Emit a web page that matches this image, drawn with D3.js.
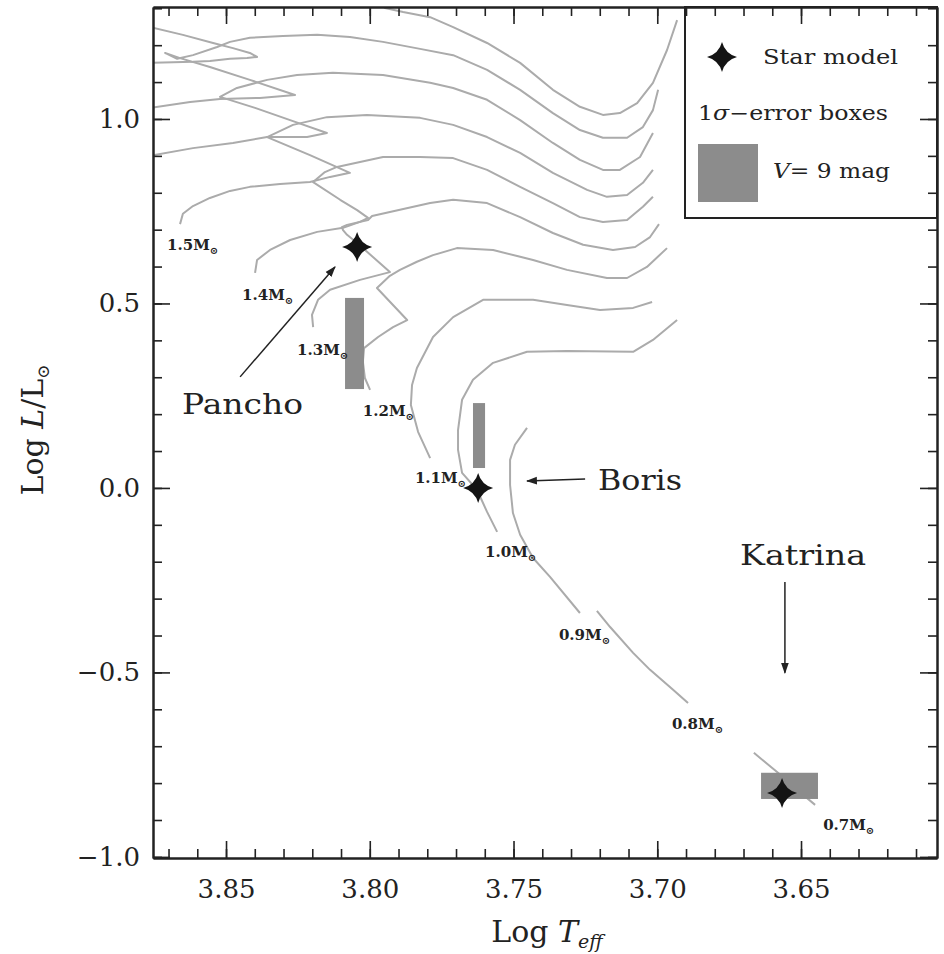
<!DOCTYPE html>
<html>
<head>
<meta charset="utf-8">
<script src="https://cdn.jsdelivr.net/npm/d3@7"></script>
<style>
  html, body { margin: 0; padding: 0; background: #fff; }
  svg { display: block; }
  text { font-family: 'DejaVu Serif', serif; fill: #222; }
</style>
</head>
<body>
<div id="chart"></div>
<script>
// evolutionary tracks, [log Teff, log L/Lsun]; null breaks a track that leaves the frame
const track18 = [[3.8764, 1.152], [3.8684, 1.154], [3.8615, 1.155], [3.8556, 1.157], [3.8486, 1.163], [3.8427, 1.165], [3.8392, 1.168],
    [3.8417, 1.179], [3.8476, 1.192], [3.8545, 1.206], [3.8650, 1.228], [3.8764, 1.249], null,
    [3.7982, 1.323], [3.7947, 1.301], [3.7884, 1.290], [3.7790, 1.276], [3.7710, 1.249], [3.7592, 1.206], [3.7477, 1.152],
    [3.7363, 1.079], [3.7269, 1.033], [3.7189, 1.011], [3.7130, 1.016], [3.7070, 1.043], [3.7015, 1.098], [3.6966, 1.187], [3.6931, 1.268]];
const track17 = [[3.8764, 1.030], [3.8625, 1.046], [3.8521, 1.054], [3.8382, 1.057], [3.8260, 1.065],
    [3.8417, 1.106], [3.8556, 1.141], [3.8660, 1.165], [3.8712, 1.179],
    [3.8670, 1.163], [3.8615, 1.173], [3.8531, 1.195], [3.8486, 1.209], [3.8417, 1.220], [3.8302, 1.225], [3.8183, 1.228],
    [3.8069, 1.222], [3.7954, 1.209], [3.7825, 1.190], [3.7710, 1.173], [3.7592, 1.133], [3.7477, 1.079], [3.7363, 1.016],
    [3.7269, 0.970], [3.7189, 0.949], [3.7105, 0.949], [3.7050, 0.978], [3.7015, 1.024], [3.6997, 1.079]];
const track16 = [[3.8764, 0.900], [3.8615, 0.921], [3.8476, 0.935], [3.8357, 0.951], [3.8218, 0.951], [3.8149, 0.962],
    [3.8277, 0.997], [3.8399, 1.030], [3.8521, 1.060],
    [3.8462, 1.084], [3.8357, 1.106], [3.8253, 1.119], [3.8128, 1.125], [3.7954, 1.119], [3.7790, 1.098], [3.7710, 1.084],
    [3.7592, 1.052], [3.7477, 0.997], [3.7363, 0.935], [3.7269, 0.889], [3.7189, 0.862], [3.7130, 0.862], [3.7060, 0.897], [3.7015, 0.962]];
const track15 = [[3.8660, 0.715], [3.8650, 0.743], [3.8615, 0.764], [3.8556, 0.786], [3.8486, 0.805], [3.8417, 0.816], [3.8312, 0.824],
    [3.8208, 0.829], [3.8138, 0.843], [3.8069, 0.854],
    [3.8208, 0.902], [3.8357, 0.951],
    [3.8267, 0.984], [3.8149, 1.005], [3.8010, 1.011], [3.7825, 1.003], [3.7710, 0.984], [3.7592, 0.951], [3.7477, 0.908],
    [3.7363, 0.854], [3.7244, 0.808], [3.7175, 0.789], [3.7105, 0.794], [3.7050, 0.827], [3.7015, 0.862]];
const track14 = [[3.8399, 0.583], [3.8392, 0.618], [3.8347, 0.645], [3.8277, 0.672], [3.8183, 0.694], [3.8093, 0.705], [3.8034, 0.721], [3.8006, 0.732],
    [3.8044, 0.753], [3.8103, 0.781], [3.8197, 0.829],
    [3.8156, 0.856], [3.8114, 0.870], [3.7954, 0.897], [3.7825, 0.897], [3.7710, 0.894], [3.7592, 0.862], [3.7477, 0.816],
    [3.7363, 0.772], [3.7269, 0.734], [3.7189, 0.721], [3.7105, 0.726], [3.7050, 0.762], [3.7015, 0.789]];
const track13 = [[3.8197, 0.436], [3.8201, 0.469], [3.8180, 0.510], [3.8138, 0.537], [3.8034, 0.564], [3.7930, 0.585],
    [3.8044, 0.664], [3.8079, 0.686], [3.8093, 0.699],
    [3.8097, 0.707], [3.8079, 0.713], [3.8006, 0.726], [3.7992, 0.737], [3.7930, 0.748], [3.7790, 0.772], [3.7710, 0.781],
    [3.7592, 0.772], [3.7477, 0.734], [3.7363, 0.691], [3.7258, 0.659], [3.7154, 0.645], [3.7077, 0.653], [3.7025, 0.680], [3.6994, 0.715]];
const track12 = [[3.7999, 0.266], [3.8017, 0.298], [3.8024, 0.342], [3.8020, 0.379], [3.7971, 0.409], [3.7919, 0.436], [3.7870, 0.455],
    [3.7975, 0.542],
    [3.7930, 0.575], [3.7895, 0.591], [3.7836, 0.613], [3.7780, 0.631], [3.7697, 0.650], [3.7571, 0.645], [3.7432, 0.618],
    [3.7314, 0.591], [3.7175, 0.569], [3.7105, 0.569], [3.7036, 0.599], [3.6966, 0.650]];
const track11 = [[3.7790, 0.081], [3.7832, 0.152], [3.7857, 0.225], [3.7853, 0.279], [3.7836, 0.325], [3.7780, 0.409], [3.7710, 0.463],
    [3.7606, 0.510], [3.7432, 0.510], [3.7314, 0.496], [3.7199, 0.482], [3.7084, 0.488], [3.7018, 0.504]];
const track10 = [[3.7557, -0.119], [3.7592, -0.065], [3.7627, -0.005], [3.7679, 0.041], [3.7693, 0.103], [3.7693, 0.157], [3.7679, 0.239],
    [3.7641, 0.293], [3.7571, 0.339], [3.7453, 0.369], [3.7314, 0.371], [3.7084, 0.369], [3.7015, 0.401], [3.6931, 0.455]];
const track09 = [[3.7269, -0.339], [3.7373, -0.241], [3.7432, -0.190], [3.7477, -0.127], [3.7502, -0.068], [3.7512, 0.008],
    [3.7512, 0.076], [3.7495, 0.117], [3.7453, 0.163]];
const track08 = [[3.6893, -0.583], [3.6945, -0.547], [3.7025, -0.493], [3.7084, -0.447], [3.7164, -0.377], [3.7210, -0.333]];
const track07 = [[3.6451, -0.859], [3.6521, -0.813], [3.6580, -0.772], [3.6664, -0.718]];

const tracks = [track18, track17, track16, track15, track14, track13, track12, track11, track10, track09, track08, track07];

// mass labels and where each one sits
const massLabels = ['1.5', '1.4', '1.3', '1.2', '1.1', '1.0', '0.9', '0.8', '0.7'];
const massLabelLogT = [3.8705, 3.8444, 3.8253, 3.8024, 3.7843, 3.7599, 3.7342, 3.6949, 3.6423];
const massLabelLogL = [0.645, 0.510, 0.360, 0.195, 0.014, -0.187, -0.412, -0.653, -0.927];

// the three stars: model point and 1-sigma error box
const starNames = ['Pancho', 'Boris', 'Katrina'];
const starLogT = [3.8044, 3.7623, 3.6566];
const starLogL = [0.653, 0.000, -0.827];
const boxLogT = [[3.8086, 3.8020], [3.7641, 3.7599], [3.6639, 3.6441]];
const boxLogL = [[0.268, 0.515], [0.054, 0.230], [-0.843, -0.772]];

// name labels and arrows
const nameLogT = [3.8653, 3.7206, 3.6712];
const nameLogL = [0.2005, -0.0054, -0.2087];
const arrowFrom = [[3.8451, 0.301], [3.7251, 0.024], [3.6556, -0.255]];
const arrowTo = [[3.8121, 0.599], [3.7453, 0.019], [3.6556, -0.501]];

const xMajorTicks = [3.85, 3.80, 3.75, 3.70, 3.65];
const yMajorTicks = [-1.0, -0.5, 0.0, 0.5, 1.0];

const width = 944;
const height = 954;
const margin = { top: 7, right: 7, bottom: 96, left: 153 };

const svg = d3.select('#chart')
    .append('svg')
    .attr('width', width)
    .attr('height', height);

const x = d3.scaleLinear()
    .domain([3.8754, 3.6027])
    .range([margin.left, width - margin.right]);

const y = d3.scaleLinear()
    .domain([-1.003, 1.3035])
    .range([height - margin.bottom, margin.top]);

const xMinorTicks = d3.range(361, 388).map(d => d / 100);
const yMinorTicks = d3.range(-10, 14).map(d => d / 10);

const defs = svg.append('defs');
defs.append('clipPath').attr('id', 'plot-clip')
    .append('rect')
    .attr('x', margin.left)
    .attr('y', margin.top)
    .attr('width', width - margin.left - margin.right)
    .attr('height', height - margin.top - margin.bottom);

defs.append('marker')
    .attr('id', 'head')
    .attr('viewBox', '0 0 10 10')
    .attr('refX', 9)
    .attr('refY', 5)
    .attr('markerUnits', 'userSpaceOnUse')
    .attr('markerWidth', 11)
    .attr('markerHeight', 11)
    .attr('orient', 'auto')
    .append('path')
    .attr('d', 'M0,1.5L10,5L0,8.5Z')
    .attr('fill', '#222');

// tracks (straight segments keep the hook tips sharp)
const line = d3.line()
    .defined(d => d !== null)
    .x(d => x(d[0]))
    .y(d => y(d[1]));

svg.append('g')
    .attr('clip-path', 'url(#plot-clip)')
    .selectAll('path')
    .data(tracks)
    .join('path')
    .attr('d', line)
    .attr('fill', 'none')
    .attr('stroke', '#ababab')
    .attr('stroke-width', 2)
    .attr('stroke-linejoin', 'round');

// error boxes
svg.append('g')
    .selectAll('rect')
    .data(boxLogT)
    .join('rect')
    .attr('x', d => x(d[0]))
    .attr('width', d => x(d[1]) - x(d[0]))
    .attr('y', (d, i) => y(boxLogL[i][1]))
    .attr('height', (d, i) => y(boxLogL[i][0]) - y(boxLogL[i][1]))
    .attr('fill', '#8c8c8c');

// four-point star symbol
const starPath = 'M0,-15Q3.2,-3.2 15,0Q3.2,3.2 0,15Q-3.2,3.2 -15,0Q-3.2,-3.2 0,-15Z';

svg.append('g')
    .selectAll('path')
    .data(starLogT)
    .join('path')
    .attr('d', starPath)
    .attr('transform', (d, i) => `translate(${x(d)},${y(starLogL[i])})`)
    .attr('fill', '#141414');

// mass labels
const massText = svg.append('g')
    .selectAll('text')
    .data(massLabels)
    .join('text')
    .attr('x', (d, i) => x(massLabelLogT[i]))
    .attr('y', (d, i) => y(massLabelLogL[i]))
    .attr('font-size', 15)
    .attr('font-weight', 'bold')
    .attr('fill', '#111');
massText.append('tspan').text(d => d + 'M');
massText.append('tspan').attr('dy', 4).attr('font-size', 10).text('\u2299');

// star names and arrows
svg.append('g')
    .selectAll('text')
    .data(starNames)
    .join('text')
    .attr('x', (d, i) => x(nameLogT[i]))
    .attr('y', (d, i) => y(nameLogL[i]))
    .attr('font-size', 28)
    .attr('textLength', (d, i) => [121, 84, 126][i])
    .attr('lengthAdjust', 'spacingAndGlyphs')
    .text(d => d);

svg.append('g')
    .selectAll('line')
    .data(arrowFrom)
    .join('line')
    .attr('x1', d => x(d[0]))
    .attr('y1', d => y(d[1]))
    .attr('x2', (d, i) => x(arrowTo[i][0]))
    .attr('y2', (d, i) => y(arrowTo[i][1]))
    .attr('stroke', '#222')
    .attr('stroke-width', 1.5)
    .attr('marker-end', 'url(#head)');

// legend
const legend = svg.append('g');
legend.append('rect')
    .attr('x', 685)
    .attr('y', margin.top)
    .attr('width', width - margin.right - 685)
    .attr('height', 211)
    .attr('fill', '#fff')
    .attr('stroke', '#222')
    .attr('stroke-width', 2);
legend.append('path')
    .attr('d', starPath)
    .attr('transform', 'translate(722,57)')
    .attr('fill', '#141414');
legend.append('text')
    .attr('x', 763).attr('y', 64)
    .attr('font-size', 20)
    .attr('textLength', 135).attr('lengthAdjust', 'spacingAndGlyphs')
    .text('Star model');
const sigmaText = legend.append('text')
    .attr('x', 698).attr('y', 120)
    .attr('font-size', 20)
    .attr('textLength', 190).attr('lengthAdjust', 'spacingAndGlyphs');
sigmaText.append('tspan').text('1');
sigmaText.append('tspan').attr('font-style', 'italic').text('\u03c3');
sigmaText.append('tspan').text('\u2212error boxes');
legend.append('rect')
    .attr('x', 698).attr('y', 144)
    .attr('width', 60).attr('height', 58)
    .attr('fill', '#8c8c8c');
const magText = legend.append('text')
    .attr('x', 773).attr('y', 178)
    .attr('font-size', 20)
    .attr('textLength', 117).attr('lengthAdjust', 'spacingAndGlyphs');
magText.append('tspan').attr('font-style', 'italic').text('V');
magText.append('tspan').text('= 9 mag');

// axes (major + minor, mirrored on top and right)
const styleAxis = g => {
    g.attr('font-family', 'DejaVu Serif').attr('font-size', 26);
    g.select('.domain').attr('stroke', '#222').attr('stroke-width', 2);
    g.selectAll('.tick line').attr('stroke', '#222').attr('stroke-width', 1.6);
    g.selectAll('.tick text').attr('fill', '#222');
};

const bottom = height - margin.bottom;
const right = width - margin.right;

svg.append('g')
    .attr('transform', `translate(0,${bottom})`)
    .call(d3.axisBottom(x).tickValues(xMinorTicks).tickSize(-9).tickSizeOuter(0).tickFormat(''))
    .call(styleAxis);
svg.append('g')
    .attr('transform', `translate(0,${bottom})`)
    .call(d3.axisBottom(x).tickValues(xMajorTicks).tickSize(-17).tickSizeOuter(0).tickPadding(22).tickFormat(d3.format('.2f')))
    .call(styleAxis);
svg.append('g')
    .attr('transform', `translate(0,${margin.top})`)
    .call(d3.axisTop(x).tickValues(xMinorTicks).tickSize(-9).tickSizeOuter(0).tickFormat(''))
    .call(styleAxis);
svg.append('g')
    .attr('transform', `translate(0,${margin.top})`)
    .call(d3.axisTop(x).tickValues(xMajorTicks).tickSize(-17).tickSizeOuter(0).tickFormat(''))
    .call(styleAxis);

svg.append('g')
    .attr('transform', `translate(${margin.left},0)`)
    .call(d3.axisLeft(y).tickValues(yMinorTicks).tickSize(-9).tickSizeOuter(0).tickFormat(''))
    .call(styleAxis);
svg.append('g')
    .attr('transform', `translate(${margin.left},0)`)
    .call(d3.axisLeft(y).tickValues(yMajorTicks).tickSize(-17).tickSizeOuter(0).tickPadding(13).tickFormat(d3.format('.1f')))
    .call(styleAxis);
svg.append('g')
    .attr('transform', `translate(${right},0)`)
    .call(d3.axisRight(y).tickValues(yMinorTicks).tickSize(-9).tickSizeOuter(0).tickFormat(''))
    .call(styleAxis);
svg.append('g')
    .attr('transform', `translate(${right},0)`)
    .call(d3.axisRight(y).tickValues(yMajorTicks).tickSize(-17).tickSizeOuter(0).tickFormat(''))
    .call(styleAxis);

// axis titles
const xTitle = svg.append('text')
    .attr('x', 547)
    .attr('y', 942)
    .attr('text-anchor', 'middle')
    .attr('font-size', 30);
xTitle.append('tspan').text('Log ');
xTitle.append('tspan').attr('font-style', 'italic').text('T');
xTitle.append('tspan').attr('font-style', 'italic').attr('font-size', 19).attr('dy', 6).text('eff');

const yTitle = svg.append('text')
    .attr('transform', 'translate(43,430) rotate(-90)')
    .attr('text-anchor', 'middle')
    .attr('font-size', 30);
yTitle.append('tspan').text('Log ');
yTitle.append('tspan').attr('font-style', 'italic').text('L');
yTitle.append('tspan').text('/L');
yTitle.append('tspan').attr('font-size', 17).attr('dy', 6).text('\u2299');
</script>
</body>
</html>
